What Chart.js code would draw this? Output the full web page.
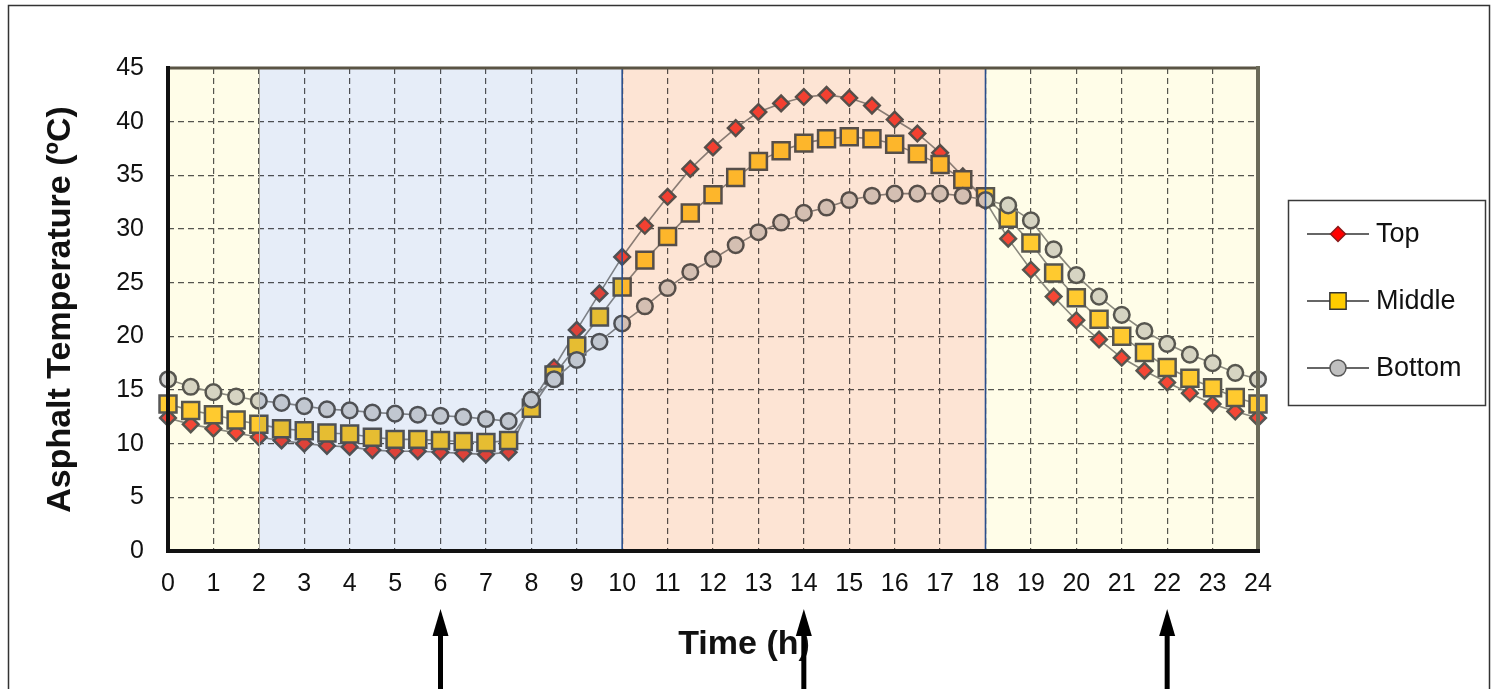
<!DOCTYPE html>
<html>
<head>
<meta charset="utf-8">
<title>Asphalt Temperature</title>
<script src="https://cdn.jsdelivr.net/npm/chart.js@4/dist/chart.umd.min.js"></script>
<style>
  body { margin: 0; background: #fff; }
  canvas { display: block; }
</style>
</head>
<body>
<canvas id="tempChart" width="1493" height="689"></canvas>
<script>
// Hours of the day, half-hour readings
const hours = [0, 0.5, 1, 1.5, 2, 2.5, 3, 3.5, 4, 4.5, 5, 5.5, 6, 6.5, 7, 7.5, 8, 8.5, 9, 9.5,
  10, 10.5, 11, 11.5, 12, 12.5, 13, 13.5, 14, 14.5, 15, 15.5, 16, 16.5, 17, 17.5, 18, 18.5, 19, 19.5,
  20, 20.5, 21, 21.5, 22, 22.5, 23, 23.5, 24];

// Asphalt temperature (ºC) at each depth
const topTemp = [12.4, 11.8, 11.4, 11.0, 10.6, 10.3, 10.0, 9.8, 9.7, 9.4, 9.3, 9.3, 9.2, 9.1, 9.0, 9.2,
  13.8, 17.1, 20.6, 24.0, 27.4, 30.3, 33.0, 35.6, 37.6, 39.4, 40.9, 41.7, 42.3, 42.5, 42.2, 41.5,
  40.2, 38.9, 37.1, 34.9, 32.6, 29.1, 26.2, 23.7, 21.5, 19.7, 18.0, 16.8, 15.7, 14.7, 13.7, 13.0, 12.4];
const middleTemp = [13.7, 13.1, 12.7, 12.2, 11.8, 11.4, 11.2, 11.0, 10.9, 10.6, 10.4, 10.4, 10.3, 10.2, 10.1, 10.3,
  13.3, 16.4, 19.1, 21.8, 24.6, 27.1, 29.3, 31.5, 33.2, 34.8, 36.3, 37.3, 38.0, 38.4, 38.6, 38.4,
  37.9, 37.0, 36.0, 34.6, 33.0, 31.0, 28.7, 25.9, 23.6, 21.6, 20.0, 18.5, 17.1, 16.1, 15.2, 14.3, 13.7];
const bottomTemp = [16.0, 15.3, 14.8, 14.4, 14.0, 13.8, 13.5, 13.2, 13.1, 12.9, 12.8, 12.7, 12.6, 12.5, 12.3, 12.1,
  14.1, 16.0, 17.8, 19.5, 21.2, 22.8, 24.5, 26.0, 27.2, 28.5, 29.7, 30.6, 31.5, 32.0, 32.7, 33.1,
  33.3, 33.3, 33.3, 33.1, 32.7, 32.2, 30.8, 28.1, 25.7, 23.7, 22.0, 20.5, 19.3, 18.3, 17.5, 16.6, 16.0];

const seriesNames = ["Top", "Middle", "Bottom"];

// Periods of the day shaded behind the curves (start, end hour)
const periods = [[0, 2], [2, 10], [10, 18], [18, 24]];
const periodColors = ["#fffde8", "#e6edf8", "#fde4d4", "#fffde8"];
const periodEdges = [10, 18];

// Hours marked with arrows under the axis
const arrowHours = [6, 14, 22];

const FONT = "'Liberation Sans', Arial, sans-serif";

function points(vals) {
  return vals.map((v, i) => ({ x: hours[i], y: v }));
}

const markerBorder = "#575757";
const lineColor = "#8a8a8a";

const styles = [
  { pointStyle: "rectRot", radius: 7.8, fill: "#f5473a", legendFill: "#ff0000", legendBorder: "#8a1a1a", legendRadius: 7.5 },
  { pointStyle: "rect", radius: 12, fill: "#ffcc33", legendFill: "#ffcc00", legendBorder: "#333333", legendRadius: 11.5 },
  { pointStyle: "circle", radius: 7.8, fill: "#d6d6d6", legendFill: "#c0c0c0", legendBorder: "#555555", legendRadius: 8 }
];

const seriesValues = [topTemp, middleTemp, bottomTemp];

const datasets = seriesValues.map((vals, i) => ({
  label: seriesNames[i],
  data: points(vals),
  borderColor: lineColor,
  borderWidth: 1.6,
  pointStyle: styles[i].pointStyle,
  pointRadius: styles[i].radius,
  pointHoverRadius: styles[i].radius,
  pointBackgroundColor: styles[i].fill,
  pointBorderColor: markerBorder,
  pointBorderWidth: 2.5,
  tension: 0,
  clip: false,
  order: 2 - i
}));

// Shading, borders, legend, arrows and the time axis title
const decor = {
  id: "decor",
  beforeDraw(chart) {
    const ctx = chart.ctx;
    ctx.save();
    ctx.fillStyle = "#ffffff";
    ctx.fillRect(0, 0, chart.width, chart.height);
    ctx.restore();
  },
  afterDatasetsDraw(chart) {
    const { ctx, chartArea: a, scales: { x, y } } = chart;
    ctx.save();
    ctx.beginPath();
    ctx.rect(a.left, a.top, a.right - a.left, a.bottom - a.top);
    ctx.clip();
    ctx.globalCompositeOperation = "multiply";
    periods.forEach((p, i) => {
      const x0 = x.getPixelForValue(p[0]);
      const x1 = x.getPixelForValue(p[1]);
      ctx.fillStyle = periodColors[i];
      ctx.fillRect(x0, a.top, x1 - x0, a.bottom - a.top);
    });
    ctx.restore();

    ctx.save();
    // soft edge where the first two periods meet
    ctx.strokeStyle = "#a8a8a0";
    ctx.lineWidth = 1;
    const e2 = Math.round(x.getPixelForValue(periods[1][0])) + 0.5;
    ctx.beginPath();
    ctx.moveTo(e2, a.top);
    ctx.lineTo(e2, a.bottom);
    ctx.stroke();
    // dark blue period boundaries
    ctx.strokeStyle = "#2b4f8c";
    ctx.lineWidth = 1.6;
    periodEdges.forEach(h => {
      const px = x.getPixelForValue(h);
      ctx.beginPath();
      ctx.moveTo(px, a.top);
      ctx.lineTo(px, a.bottom);
      ctx.stroke();
    });
    // frame of the plot area
    ctx.lineCap = "square";
    ctx.strokeStyle = "#5a5444";
    ctx.lineWidth = 3;
    ctx.beginPath();
    ctx.moveTo(a.left, a.top);
    ctx.lineTo(a.right, a.top);
    ctx.stroke();
    ctx.strokeStyle = "#6b6a58";
    ctx.lineWidth = 4;
    ctx.beginPath();
    ctx.moveTo(a.right, a.top);
    ctx.lineTo(a.right, a.bottom);
    ctx.stroke();
    ctx.strokeStyle = "#111111";
    ctx.lineWidth = 4;
    ctx.beginPath();
    ctx.moveTo(a.left, a.top);
    ctx.lineTo(a.left, a.bottom);
    ctx.lineTo(a.right, a.bottom);
    ctx.stroke();
    ctx.restore();
  },
  afterDraw(chart) {
    const { ctx, chartArea: a, scales: { x } } = chart;
    ctx.save();

    // outer frame
    ctx.strokeStyle = "#333333";
    ctx.lineWidth = 1.5;
    ctx.strokeRect(8.5, 5.5, 1481, 700);

    // x axis title
    ctx.fillStyle = "#111111";
    ctx.font = "bold 34px " + FONT;
    ctx.textAlign = "center";
    ctx.textBaseline = "middle";
    ctx.fillText("Time (h)", 744, 645);

    // arrows
    ctx.fillStyle = "#000000";
    arrowHours.forEach(h => {
      const px = x.getPixelForValue(h);
      ctx.fillRect(px - 2.5, 633, 5, 60);
      ctx.beginPath();
      ctx.moveTo(px, 609);
      ctx.lineTo(px - 8, 636);
      ctx.lineTo(px + 8, 636);
      ctx.closePath();
      ctx.fill();
    });

    // legend box
    const lx = 1288, ly = 200, lw = 197, lh = 205;
    ctx.fillStyle = "#ffffff";
    ctx.fillRect(lx, ly, lw, lh);
    ctx.strokeStyle = "#3a3a3a";
    ctx.lineWidth = 1.5;
    ctx.strokeRect(lx + 0.5, ly + 0.5, lw, lh);
    const rowY = [234, 301, 368];
    ctx.font = "27px " + FONT;
    ctx.textAlign = "left";
    ctx.textBaseline = "middle";
    seriesNames.forEach((name, i) => {
      const yy = rowY[i];
      ctx.strokeStyle = "#333333";
      ctx.lineWidth = 1.5;
      ctx.beginPath();
      ctx.moveTo(1307, yy);
      ctx.lineTo(1369, yy);
      ctx.stroke();
      ctx.fillStyle = styles[i].legendFill;
      ctx.strokeStyle = styles[i].legendBorder;
      ctx.lineWidth = 1.5;
      Chart.helpers.drawPoint(ctx, {
        pointStyle: styles[i].pointStyle,
        radius: styles[i].legendRadius,
        rotation: 0,
        borderWidth: 1.5
      }, 1338, yy);
      ctx.fillStyle = "#111111";
      ctx.fillText(name, 1376, yy + 1);
    });
    ctx.restore();
  }
};

new Chart(document.getElementById("tempChart"), {
  type: "line",
  data: { datasets },
  options: {
    responsive: false,
    animation: false,
    events: [],
    layout: { padding: { left: 20, right: 235, top: 68, bottom: 0 } },
    plugins: {
      legend: { display: false },
      tooltip: { enabled: false }
    },
    scales: {
      x: {
        type: "linear",
        min: 0,
        max: 24,
        ticks: {
          stepSize: 1,
          padding: 18,
          color: "#111111",
          font: { family: FONT, size: 25 }
        },
        grid: { color: "#555555", lineWidth: 1.2, drawTicks: false },
        border: { display: false, dash: [6, 4] },
        afterFit(scale) { scale.height = 138; }
      },
      y: {
        min: 0,
        max: 45,
        ticks: {
          stepSize: 5,
          padding: 24,
          color: "#111111",
          font: { family: FONT, size: 25 }
        },
        grid: { color: "#555555", lineWidth: 1.2, drawTicks: false },
        border: { display: false, dash: [6, 4] },
        title: {
          display: true,
          text: "Asphalt Temperature (ºC)",
          color: "#111111",
          font: { family: FONT, size: 34, weight: "bold" },
          padding: { top: 20, bottom: 0 }
        },
        afterFit(scale) { scale.width = 148; }
      }
    }
  },
  plugins: [decor]
});
</script>
</body>
</html>
